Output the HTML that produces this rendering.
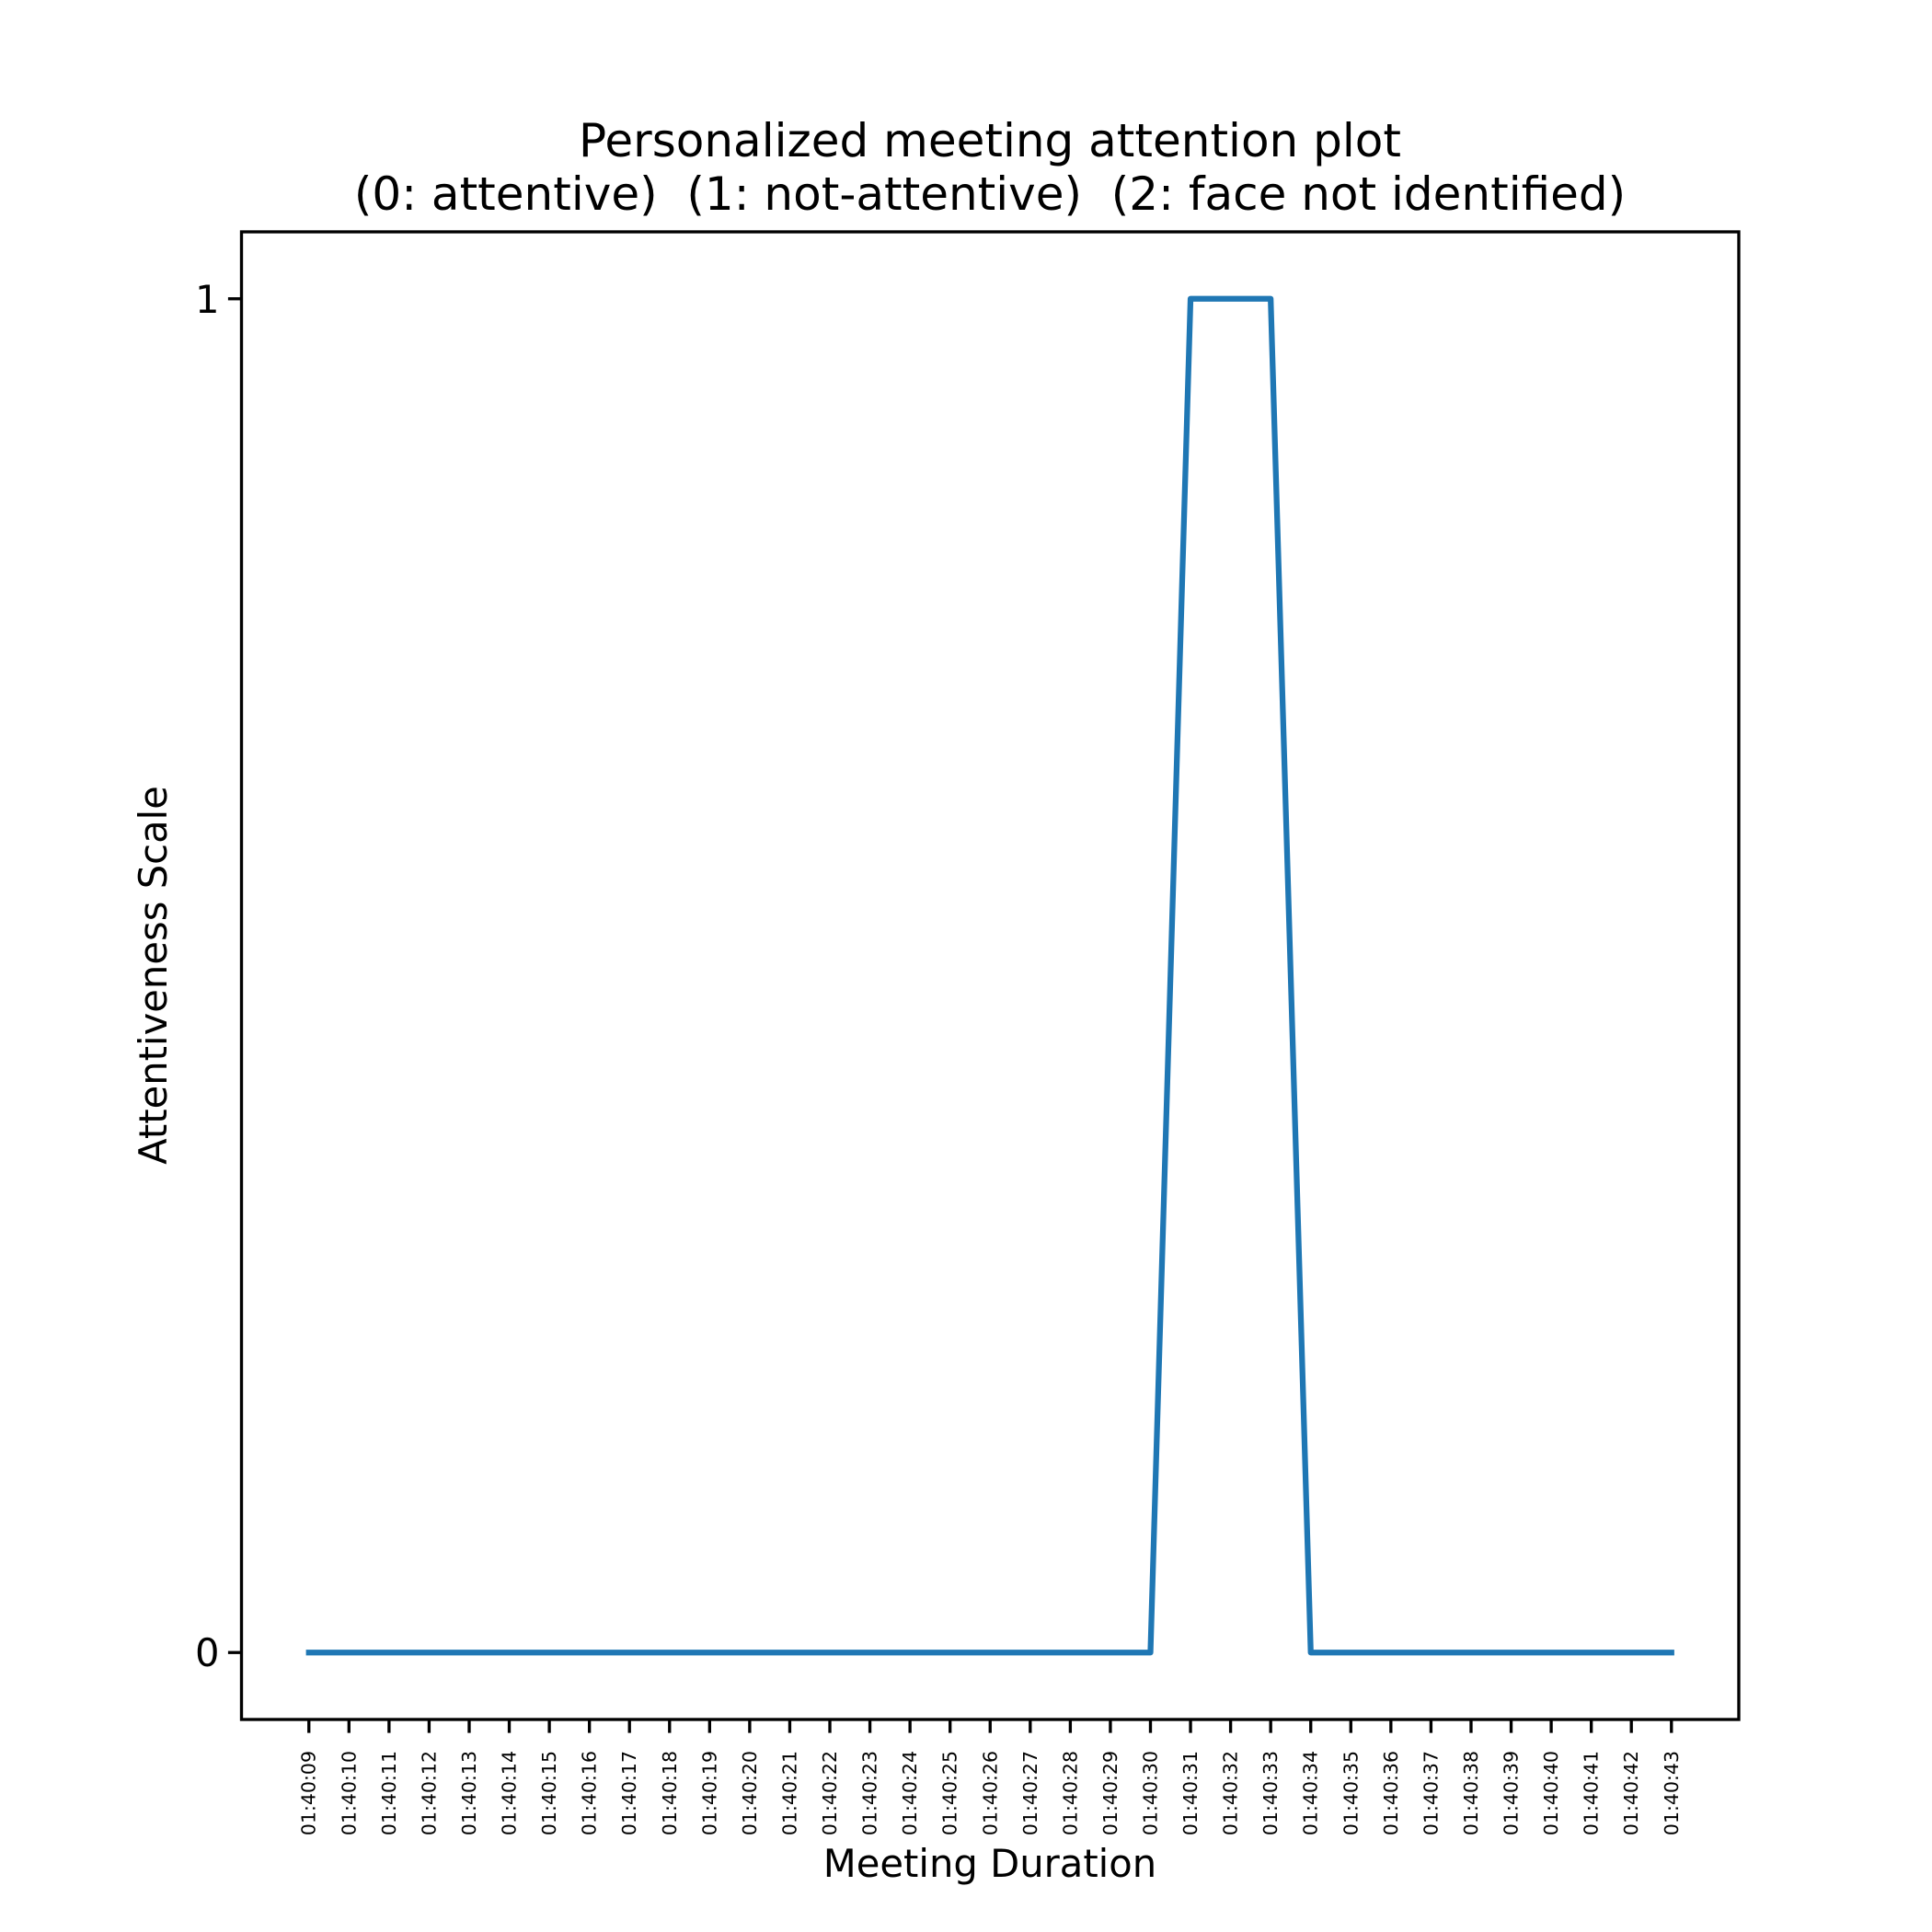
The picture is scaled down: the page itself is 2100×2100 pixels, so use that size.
<!DOCTYPE html>
<html><head><meta charset="utf-8"><style>html,body{margin:0;padding:0;background:#fff}svg{display:block}text{font-family:"DejaVu Sans","Liberation Sans",sans-serif;fill:#000;white-space:pre}</style></head>
<body>
<svg id="chart" width="2100" height="2100" viewBox="0 0 2100 2100" xmlns="http://www.w3.org/2000/svg">
<rect width="2100" height="2100" fill="#fff"/>
<text x="1076" y="170" font-size="50" text-anchor="middle">Personalized meeting attention plot</text>
<text x="1076" y="228" font-size="50" text-anchor="middle" xml:space="preserve">(0: attentive)  (1: not-attentive)  (2: face not identified)</text>
<g id="plot"></g>
<rect x="262.5" y="252" width="1627.5" height="1617" fill="none" stroke="#000" stroke-width="3.33"/>
<text x="1076" y="2040" font-size="41.7" text-anchor="middle">Meeting Duration</text>
<text transform="translate(181,1060) rotate(-90)" font-size="41.7" text-anchor="middle">Attentiveness Scale</text>
</svg>
<script>
const categories = ["01:40:09","01:40:10","01:40:11","01:40:12","01:40:13","01:40:14","01:40:15","01:40:16","01:40:17","01:40:18","01:40:19","01:40:20","01:40:21","01:40:22","01:40:23","01:40:24","01:40:25","01:40:26","01:40:27","01:40:28","01:40:29","01:40:30","01:40:31","01:40:32","01:40:33","01:40:34","01:40:35","01:40:36","01:40:37","01:40:38","01:40:39","01:40:40","01:40:41","01:40:42","01:40:43"];
const values = [0,0,0,0,0,0,0,0,0,0,0,0,0,0,0,0,0,0,0,0,0,0,1,1,1,0,0,0,0,0,0,0,0,0,0];
const yTicks = [0,1];

const NS="http://www.w3.org/2000/svg";
const L=262.5,R=1890,T=252,B=1869;
const M=0.045;
const n=categories.length;
const span=Math.max(n-1,1);
const ymin=Math.min(...values),ymax=Math.max(...values,ymin+1);
const yspan=ymax-ymin;
function xs(i){return L+(R-L)*(M+(1-2*M)*i/span);}
function ys(v){return B-(B-T)*(M+(1-2*M)*(v-ymin)/yspan);}
const g=document.getElementById('plot');
function mk(tag,attrs){const e=document.createElementNS(NS,tag);for(const k in attrs)e.setAttribute(k,attrs[k]);g.appendChild(e);return e;}
const pts=values.map((v,i)=>xs(i).toFixed(2)+","+ys(v).toFixed(2)).join(" ");
const line=mk('polyline',{points:pts,fill:'none',stroke:'#1f77b4','stroke-width':6.25,'stroke-linejoin':'round','stroke-linecap':'square'});


categories.forEach((c,i)=>{
  const x=xs(i);
  const t=mk('line',{x1:x,x2:x,y1:B,y2:B+14.6,stroke:'#000','stroke-width':3.33});
  
  
  const lb=mk('text',{transform:`translate(${x+7},1903) rotate(-90)`,'font-size':20.5,'text-anchor':'end'});
  lb.textContent=c;
  
  
});
yTicks.forEach(v=>{
  const y=ys(v);
  const t=mk('line',{x1:L-14.6,x2:L,y1:y,y2:y,stroke:'#000','stroke-width':3.33});
  
  
  const lb=mk('text',{x:L-24,y:y+15,'font-size':41.7,'text-anchor':'end'});
  lb.textContent=String(v);
  
  
});
</script>
</body></html>
